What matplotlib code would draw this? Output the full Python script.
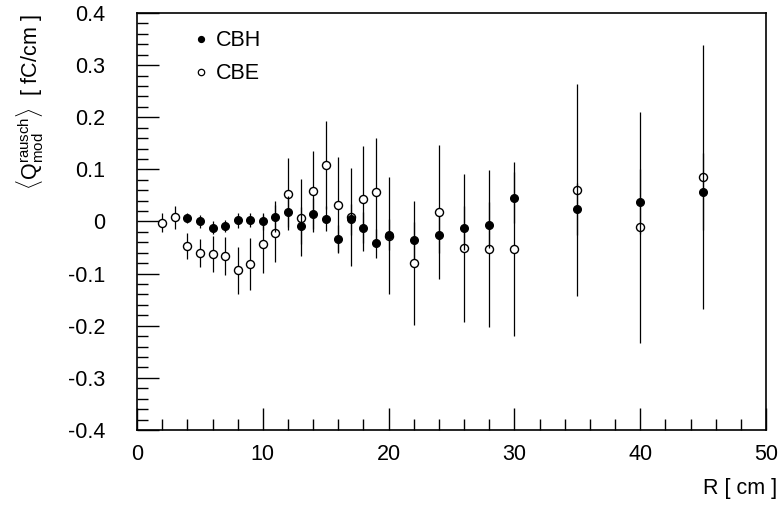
import numpy as np
import matplotlib
matplotlib.use("Agg")
import matplotlib.pyplot as plt
from matplotlib.ticker import MultipleLocator, FuncFormatter

plt.rcParams['font.family'] = ['Liberation Sans', 'DejaVu Sans']
plt.rcParams['mathtext.fontset'] = 'custom'
plt.rcParams['mathtext.rm'] = 'Liberation Sans'
plt.rcParams['axes.unicode_minus'] = False

# CBH (gefuellte Punkte)
r_cbh = [4, 5, 6, 7, 8, 9, 10, 11, 12, 13, 14, 15, 16, 17, 18, 19, 20,
         22, 24, 26, 28, 30, 35, 40, 45]
q_cbh = [0.007, 0.0, -0.012, -0.009, 0.002, 0.003, 0.0, 0.009, 0.019, -0.008,
         0.015, 0.005, -0.034, 0.004, -0.012, -0.042, -0.025,
         -0.036, -0.025, -0.012, -0.007, 0.046, 0.024, 0.038, 0.057]
e_cbh = [0.01, 0.012, 0.012, 0.012, 0.014, 0.014, 0.016, 0.03, 0.03, 0.035,
         0.03, 0.024, 0.027, 0.03, 0.03, 0.028, 0.03,
         0.035, 0.035, 0.042, 0.044, 0.048, 0.05, 0.062, 0.074]

# CBE (offene Punkte)
r_cbe = [2, 3, 4, 5, 6, 7, 8, 9, 10, 11, 12, 13, 14, 15, 16, 17, 18, 19, 20,
         22, 24, 26, 28, 30, 35, 40, 45]
q_cbe = [-0.002, 0.008, -0.047, -0.060, -0.062, -0.066, -0.094, -0.082, -0.043,
         -0.023, 0.052, 0.007, 0.058, 0.108, 0.032, 0.008, 0.044, 0.057, -0.027,
         -0.079, 0.018, -0.050, -0.052, -0.052, 0.060, -0.011, 0.085]
e_cbe = [0.019, 0.022, 0.024, 0.027, 0.034, 0.037, 0.045, 0.05, 0.055,
         0.055, 0.069, 0.074, 0.078, 0.084, 0.091, 0.094, 0.101, 0.104, 0.113,
         0.119, 0.128, 0.142, 0.151, 0.167, 0.203, 0.222, 0.253]

fig = plt.figure(figsize=(7.79, 5.05), dpi=100)
ax = fig.add_axes([0.1759, 0.1485, 0.8074, 0.8258])

ax.errorbar(r_cbe, q_cbe, yerr=e_cbe, fmt='o', ms=5.8, mfc='white', mec='black',
            mew=1.0, ecolor='black', elinewidth=0.9, capsize=0, zorder=2)
ax.errorbar(r_cbh, q_cbh, yerr=e_cbh, fmt='o', ms=5.5, mfc='black', mec='black',
            ecolor='black', elinewidth=0.9, capsize=0, zorder=3)

ax.set_xlim(0, 50)
ax.set_ylim(-0.4, 0.4)

ax.xaxis.set_major_locator(MultipleLocator(10))
ax.xaxis.set_minor_locator(MultipleLocator(2))
ax.yaxis.set_major_locator(MultipleLocator(0.1))
ax.yaxis.set_minor_locator(MultipleLocator(0.02))
ax.yaxis.set_major_formatter(FuncFormatter(lambda v, p: '0' if abs(v) < 1e-9 else '%g' % round(v, 2)))

ax.tick_params(which='both', direction='in', top=False, right=False, labelsize=15.5, width=1)
ax.tick_params(axis='y', which='major', length=16, pad=23)
ax.tick_params(axis='y', which='minor', length=8)
ax.tick_params(axis='x', which='major', length=16, pad=10)
ax.tick_params(axis='x', which='minor', length=8)
for s in ax.spines.values():
    s.set_linewidth(1.2)

ax.set_xlabel('R [ cm ]', fontsize=15.5, loc='right')
ax.xaxis.set_label_coords(1.0175, -0.115)
ax.set_ylabel(r'$\langle\mathrm{Q}^{\mathrm{rausch}}_{\mathrm{mod}}\rangle$  [ fC/cm ]',
              fontsize=15.5, loc='top')
ax.yaxis.set_label_coords(-0.145, 0.997)

h1, = ax.plot([], [], 'o', ms=4.2, color='black')
h2, = ax.plot([], [], 'o', ms=4.6, mfc='white', mec='black', mew=0.9)
ax.legend([h1, h2], ['CBH', 'CBE'], loc='upper left', bbox_to_anchor=(0.062, 1.005),
          frameon=False, fontsize=15.5, handlelength=0.5, handletextpad=0.45,
          labelspacing=0.55)

fig.savefig('out.png', dpi=100)
